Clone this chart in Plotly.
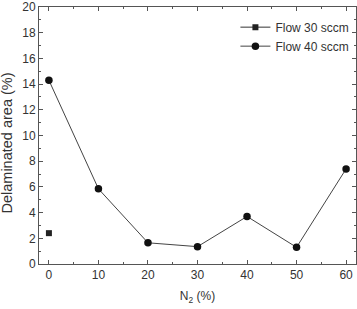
import plotly.graph_objects as go

n2_30 = [0]
area_30 = [2.4]
n2_40 = [0, 10, 20, 30, 40, 50, 60]
area_40 = [14.3, 5.85, 1.65, 1.35, 3.7, 1.3, 7.4]
x_ticks = [0, 10, 20, 30, 40, 50, 60]
y_ticks = [0, 2, 4, 6, 8, 10, 12, 14, 16, 18, 20]

fig = go.Figure()
fig.add_trace(go.Scatter(x=n2_30, y=area_30, mode="lines+markers", name="Flow 30 sccm",
                         line=dict(color="#333333", width=1),
                         marker=dict(symbol="square", size=6, color="#222222")))
fig.add_trace(go.Scatter(x=n2_40, y=area_40, mode="lines+markers", name="Flow 40 sccm",
                         line=dict(color="#444444", width=1),
                         marker=dict(symbol="circle", size=7.5, color="#111111")))

axis_common = dict(showline=True, linecolor="#555555", linewidth=1, mirror="ticks",
                   ticks="inside", ticklen=4, tickcolor="#555555", showgrid=False,
                   zeroline=False, automargin=False,
                   tickfont=dict(family="Liberation Sans", size=12, color="#333333"))
fig.update_xaxes(range=[-2, 62], tickvals=x_ticks,
                 minor=dict(dtick=5, ticks="inside", ticklen=2, tickcolor="#555555"),
                 title=dict(text="N<sub>2</sub> (%)", font=dict(family="Liberation Sans", size=12, color="#333333"), standoff=10),
                 **axis_common)
fig.update_yaxes(range=[0, 20], tickvals=y_ticks,
                 minor=dict(dtick=1, ticks="inside", ticklen=2, tickcolor="#555555"),
                 **axis_common)
fig.add_annotation(text="Delaminated area (%)", textangle=-90, xref="paper", yref="paper",
                   x=(6 - 39) / 317, y=(264 - 143.5) / 257, xanchor="center", yanchor="middle",
                   showarrow=False, font=dict(family="Liberation Sans", size=14.5, color="#333333"))
fig.update_layout(width=357, height=309, margin=dict(l=39, r=1, t=7, b=45),
                  plot_bgcolor="white", paper_bgcolor="white",
                  legend=dict(x=0.995, y=0.978, xanchor="right", yanchor="top",
                              bgcolor="rgba(0,0,0,0)", tracegroupgap=0,
                              font=dict(family="Liberation Sans", size=12, color="#333333"),
                              itemwidth=30))
fig.write_html("out.html", config={"displayModeBar": False},
               post_script="document.body.style.margin='0';document.body.style.padding='0';")
